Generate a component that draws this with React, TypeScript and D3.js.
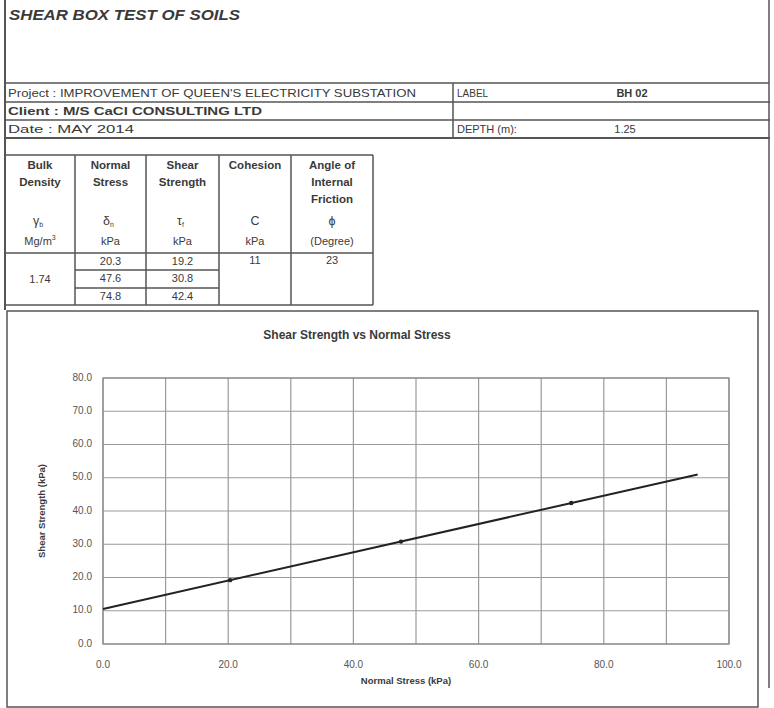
import React, { useRef, useEffect } from "react";
import * as d3 from "d3";

// Test results read from the sheet
const normalStress = [20.3, 47.6, 74.8];
const shearStrength = [19.2, 30.8, 42.4];
const bulkDensity = "1.74";
const cohesion = "11";
const friction = "23";

const xTicks = [0, 20, 40, 60, 80, 100];
const yTicks = [0, 10, 20, 30, 40, 50, 60, 70, 80];
const xGrid = [0, 10, 20, 30, 40, 50, 60, 70, 80, 90, 100];
const trendRange = [0, 95];

const projectText = "Project  :  IMPROVEMENT OF QUEEN'S ELECTRICITY SUBSTATION";
const clientText = "Client  :  M/S CaCl CONSULTING LTD";
const dateText = "Date     :  MAY 2014";

const FONT = "'Liberation Sans', Arial, sans-serif";
const INK = "#3a3a3a";
const LINE = "#555";

const App: React.FC = () => {
  const ref = useRef<SVGSVGElement | null>(null);

  useEffect(() => {
    const svg = d3.select(ref.current);
    svg.selectAll("*").remove();
    svg.attr("width", 774).attr("height", 708).style("font-family", FONT);

    svg.append("rect").attr("width", 774).attr("height", 708).attr("fill", "#fff");

    const hline = (x1: number, x2: number, y: number, w = 1.5, c = LINE) =>
      svg.append("line").attr("x1", x1).attr("x2", x2).attr("y1", y).attr("y2", y)
        .attr("stroke", c).attr("stroke-width", w);
    const vline = (x: number, y1: number, y2: number, w = 1.5, c = LINE) =>
      svg.append("line").attr("x1", x).attr("x2", x).attr("y1", y1).attr("y2", y2)
        .attr("stroke", c).attr("stroke-width", w);
    const text = (
      s: string, x: number, y: number,
      opts: { size?: number; weight?: string; anchor?: string; style?: string; len?: number } = {},
    ) => {
      const t = svg.append("text").attr("x", x).attr("y", y)
        .attr("fill", INK)
        .attr("text-anchor", opts.anchor ?? "start")
        .attr("dominant-baseline", "middle")
        .style("font-size", `${opts.size ?? 11}px`)
        .style("font-weight", opts.weight ?? "normal")
        .style("font-style", opts.style ?? "normal")
        .text(s);
      if (opts.len) t.attr("textLength", opts.len).attr("lengthAdjust", "spacingAndGlyphs");
      return t;
    };

    // Page frame
    vline(5, 0, 310, 2);
    vline(769, 0, 688, 1.5);

    // Title block
    text("SHEAR BOX TEST OF SOILS", 9, 16, { size: 15, weight: "bold", style: "italic", len: 231 });
    hline(5, 769, 83);
    hline(5, 770, 102);
    hline(5, 770, 120);
    hline(5, 770, 138, 2);
    vline(453, 83, 138);

    text(projectText, 8, 94, { size: 10.5, len: 408 });
    text(clientText, 8, 112, { size: 11, weight: "bold", len: 254 });
    text(dateText, 8, 130, { size: 10.5, len: 126 });
    text("LABEL", 457, 94, { size: 10 });
    text("BH 02", 632, 94, { size: 11, weight: "bold", anchor: "middle" });
    text("DEPTH (m):", 457, 130, { size: 11 });
    text("1.25", 625, 130, { size: 11, anchor: "middle" });

    // Results table
    const cols = [5, 75, 146, 219, 291, 373];
    const top = 155, headBottom = 253, bottom = 305;
    const subRows = [270, 288];
    hline(5, 373, top);
    hline(5, 373, headBottom);
    hline(5, 373, bottom);
    cols.forEach((c) => vline(c, top, bottom));
    subRows.forEach((y) => hline(cols[1], cols[3], y));

    const centre = (i: number) => (cols[i] + cols[i + 1]) / 2;
    const headers = [
      ["Bulk", "Density"],
      ["Normal", "Stress"],
      ["Shear", "Strength"],
      ["Cohesion"],
      ["Angle of", "Internal", "Friction"],
    ];
    headers.forEach((lines, i) =>
      lines.forEach((l, j) => text(l, centre(i), 166 + j * 17, { size: 11.5, weight: "bold", anchor: "middle" })),
    );

    const symbols = ["γ", "δ", "τ", "C", "ϕ"];
    const subs = ["b", "n", "f", "", ""];
    symbols.forEach((s, i) => {
      const t = text(s, centre(i) + (subs[i] ? -2 : 0), 222, { size: 12.5, anchor: "middle" });
      if (subs[i]) t.append("tspan").attr("dy", 3).style("font-size", "7px").text(subs[i]);
    });
    const units = ["Mg/m", "kPa", "kPa", "kPa", "(Degree)"];
    units.forEach((u, i) => {
      const t = text(u, centre(i), 242, { size: 11, anchor: "middle" });
      if (i === 0) t.append("tspan").attr("dy", -4).style("font-size", "7px").text("3");
    });

    const rowMid = [262, 279, 297];
    normalStress.forEach((v, i) => text(v.toFixed(1), centre(1), rowMid[i], { size: 11, anchor: "middle" }));
    shearStrength.forEach((v, i) => text(v.toFixed(1), centre(2), rowMid[i], { size: 11, anchor: "middle" }));
    text(bulkDensity, centre(0), 280, { size: 11, anchor: "middle" });
    text(cohesion, centre(3), 261, { size: 11, anchor: "middle" });
    text(friction, centre(4), 261, { size: 11, anchor: "middle" });

    // Chart frame
    svg.append("rect").attr("x", 7).attr("y", 311).attr("width", 751).attr("height", 396)
      .attr("fill", "none").attr("stroke", LINE).attr("stroke-width", 1.5);

    text("Shear Strength vs Normal Stress", 357, 336, { size: 12, weight: "bold", anchor: "middle" });

    const margin = { left: 103, right: 729, top: 378, bottom: 644 };
    const x = d3.scaleLinear().domain([0, 100]).range([margin.left, margin.right]);
    const y = d3.scaleLinear().domain([0, 80]).range([margin.bottom, margin.top]);

    const grid = svg.append("g");
    grid.selectAll(".gx").data(xGrid).enter().append("line")
      .attr("x1", (d) => x(d)).attr("x2", (d) => x(d))
      .attr("y1", margin.top).attr("y2", margin.bottom)
      .attr("stroke", "#9a9a9a").attr("stroke-width", 1.2);
    grid.selectAll(".gy").data(yTicks).enter().append("line")
      .attr("x1", margin.left).attr("x2", margin.right)
      .attr("y1", (d) => y(d)).attr("y2", (d) => y(d))
      .attr("stroke", "#9a9a9a").attr("stroke-width", 1.2);
    svg.append("rect").attr("x", margin.left).attr("y", margin.top)
      .attr("width", margin.right - margin.left).attr("height", margin.bottom - margin.top)
      .attr("fill", "none").attr("stroke", "#888").attr("stroke-width", 1.2);

    const fmt = d3.format(".1f");
    yTicks.forEach((t) => text(fmt(t), 92, y(t), { size: 10, anchor: "end" }).attr("fill", "#555"));
    xTicks.forEach((t) => text(fmt(t), x(t), 665, { size: 10, anchor: "middle" }).attr("fill", "#555"));

    text("Normal Stress (kPa)", 406, 681, { size: 9.5, weight: "bold", anchor: "middle" });
    svg.append("text")
      .attr("transform", `translate(42,${(margin.top + margin.bottom) / 2}) rotate(-90)`)
      .attr("text-anchor", "middle").attr("dominant-baseline", "middle")
      .attr("fill", INK).style("font-size", "9.5px").style("font-weight", "bold")
      .text("Shear Strength (kPa)");

    // Least-squares failure envelope through the three points
    const mx = d3.mean(normalStress) as number;
    const my = d3.mean(shearStrength) as number;
    const sxy = d3.sum(normalStress, (v, i) => (v - mx) * (shearStrength[i] - my));
    const sxx = d3.sum(normalStress, (v) => (v - mx) ** 2);
    const slope = sxy / sxx;
    const icpt = my - slope * mx;

    const line = d3.line<number>().x((d) => x(d)).y((d) => y(icpt + slope * d));
    svg.append("path").datum(trendRange).attr("d", line)
      .attr("fill", "none").attr("stroke", "#222").attr("stroke-width", 2);

    svg.selectAll(".pt").data(normalStress).enter().append("circle")
      .attr("cx", (d) => x(d)).attr("cy", (d, i) => y(shearStrength[i]))
      .attr("r", 2.2).attr("fill", "#222");
  }, []);

  return (
    <div style={{ position: "absolute", left: 0, top: 0 }}>
      <svg ref={ref} style={{ display: "block" }} />
    </div>
  );
};

export default App;
